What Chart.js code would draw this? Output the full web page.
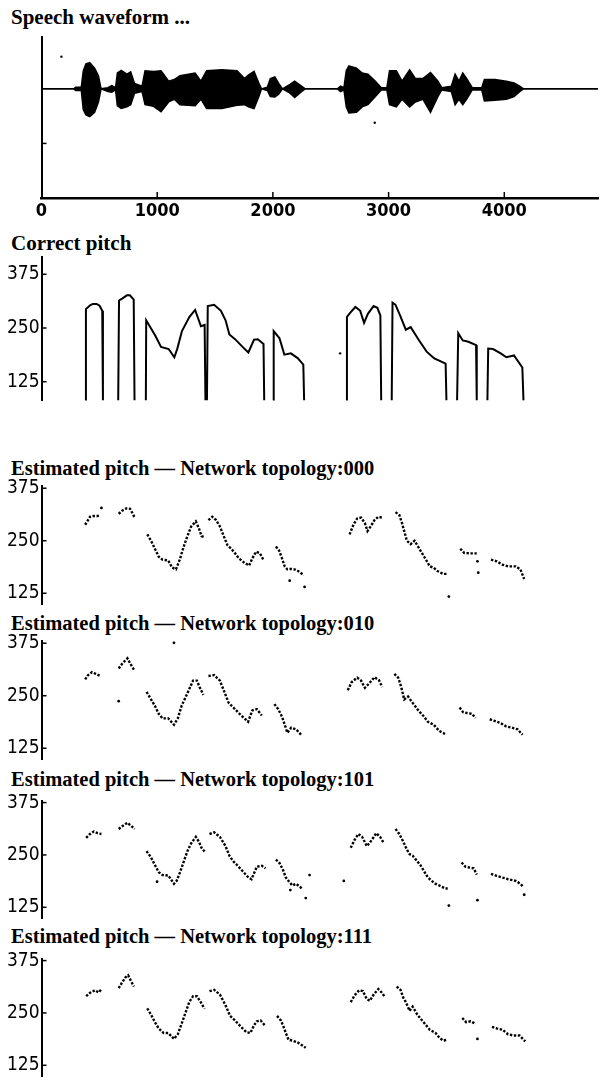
<!DOCTYPE html>
<html>
<head>
<meta charset="utf-8">
<script src="https://cdn.jsdelivr.net/npm/chart.js@4.4.1/dist/chart.umd.min.js"></script>
<style>
  html, body { margin: 0; padding: 0; background: #fff; overflow: hidden; }
  body { width: 602px; height: 1082px; position: relative; }
  canvas { position: absolute; left: 0; }
  .ttl { position: absolute; left: 11px; font-family: "Liberation Serif", "DejaVu Serif", serif;
         font-weight: bold; color: #000; white-space: nowrap; }
</style>
</head>
<body>
<div class="ttl" style="top:7px;font-size:21px;line-height:21px">Speech waveform ...</div>
<div class="ttl" style="top:233px;font-size:21px;line-height:21px">Correct pitch</div>
<div class="ttl" style="top:458px;font-size:20.5px;line-height:20.5px">Estimated pitch — Network topology:000</div>
<div class="ttl" style="top:613px;font-size:20.5px;line-height:20.5px">Estimated pitch — Network topology:010</div>
<div class="ttl" style="top:769px;font-size:20.5px;line-height:20.5px">Estimated pitch — Network topology:101</div>
<div class="ttl" style="top:926px;font-size:20.5px;line-height:20.5px">Estimated pitch — Network topology:111</div>

<canvas id="wave"></canvas>
<canvas id="correct"></canvas>
<canvas id="est000"></canvas>
<canvas id="est010"></canvas>
<canvas id="est101"></canvas>
<canvas id="est111"></canvas>

<script>
// ---- data (time axis in samples, pitch in Hz) ----
const timeTicks = [0, 1000, 2000, 3000, 4000];
const pitchTicks = [125, 250, 375];

// waveform envelope: position, upper amplitude, lower amplitude
const waveX = [0, 279, 295, 344, 361, 384, 417, 459, 492, 515, 574, 607, 640, 656, 689, 738, 771, 804, 869, 895,
  968, 1033, 1099, 1148, 1197, 1328, 1378, 1427, 1558, 1690, 1755, 1788, 1837, 1879, 1902, 1952, 1978, 2017, 2050, 2083,
  2148, 2188, 2247, 2280, 2558, 2585, 2614, 2634, 2657, 2722, 2772, 2821, 2886, 2936, 2985, 3008, 3067, 3116, 3182, 3231,
  3296, 3362, 3427, 3460, 3542, 3575, 3608, 3641, 3674, 3723, 3805, 3828, 3920, 4018, 4084, 4133, 4166, 4810];
const waveUp = [0, 0, .03, .03, .33, .46, .48, .38, .24, 0, .02, .06, .02, .29, .34, .27, .31, .1, .05, .33,
  .32, .33, .14, .17, .24, .29, .14, .33, .35, .33, .19, .25, .32, .1, 0, .03, .19, .22, .1, 0,
  .08, .14, .05, 0, 0, .05, .02, .33, .42, .38, .29, .27, .14, .02, .02, .33, .33, .14, .35, .19,
  .19, .3, .14, .02, .05, .27, .14, .29, .19, .02, .02, .17, .17, .14, .11, .05, 0, 0];
const waveDown = [0, 0, .03, .03, .38, .48, .51, .43, .24, 0, .05, .06, .02, .31, .36, .33, .29, .08, .05, .29,
  .32, .42, .24, .19, .29, .31, .19, .36, .36, .3, .29, .33, .36, .14, 0, .03, .14, .15, .1, 0,
  .08, .16, .05, 0, 0, .05, .02, .33, .44, .43, .33, .29, .14, .02, .02, .29, .33, .19, .33, .24,
  .19, .43, .14, .02, .05, .29, .19, .29, .19, .02, .02, .22, .21, .19, .14, .05, 0, 0];
const waveSpeckX = [172, 2880];
const waveSpeckY = [0.59, -0.62];

// correct pitch (81 = bottom of the panel, null = break)
const corrX = [377, 384, 420, 443, 476, 502, 525, 531, null,
  663, 670, 700, 738, 764, 797, 804, null,
  902, 905, 984, 1033, 1099, 1148, 1174, 1214, 1279, 1328, 1378, 1410, 1417, null,
  1430, 1437, 1492, 1551, 1591, 1624, 1673, 1738, 1788, 1837, 1870, 1919, 1925, null,
  2001, 2007, 2057, 2099, 2155, 2214, 2263, 2270, null,
  2634, 2640, 2673, 2713, 2755, 2788, 2821, 2870, 2903, 2929, 2936, null,
  3027, 3034, 3060, 3100, 3149, 3191, 3264, 3329, 3395, 3493, 3500, null,
  3592, 3602, 3641, 3690, 3756, 3762, null,
  3854, 3861, 3903, 3969, 4018, 4084, 4156, 4166];
const corrY = [81, 294, 303, 306, 306, 302, 290, 81, null,
  81, 314, 319, 326, 326, 316, 81, null,
  81, 268, 232, 206, 201, 182, 202, 243, 276, 292, 254, 257, 81, null,
  81, 301, 304, 290, 268, 235, 224, 206, 193, 223, 224, 213, 81, null,
  81, 243, 226, 188, 191, 180, 165, 81, null,
  81, 276, 287, 299, 290, 262, 283, 301, 297, 279, 81, null,
  81, 309, 304, 279, 246, 252, 221, 195, 179, 167, 81, null,
  81, 238, 221, 218, 210, 81, null,
  81, 202, 201, 191, 182, 186, 158, 81];
const corrSpeckX = [2581, 3538];
const corrSpeckY = [191, 65];

// estimated pitch, topology 000
const estX000 = [377, 396, 419, 452, 485, 508, null,
  667, 700, 733, 766, 789, 805, null,
  914, 947, 980, 1013, 1046, 1096, 1129, 1162, 1195, 1228, 1261, 1294, 1334, 1360, 1383, 1410, null,
  1443, 1476, 1509, 1542, 1575, 1608, 1640, 1673, 1706, 1756, 1795, 1822, 1855, 1888, 1921, null,
  2026, 2053, 2079, 2102, 2125, 2158, 2185, 2218, 2267, null,
  2663, 2696, 2729, 2762, 2795, 2818, 2845, 2878, 2911, 2944, null,
  3060, 3093, 3116, 3135, 3158, 3191, 3224, 3257, 3290, 3323, 3356, 3389, 3422, 3472, 3511, null,
  3620, 3653, 3702, 3762, null,
  3885, 3934, 3984, 4033, 4099, 4139, 4172];
const estY000 = [288, 296, 307, 309, 309, 311, null,
  314, 322, 327, 326, 314, 305, null,
  265, 250, 231, 212, 205, 203, 186, 182, 205, 235, 261, 284, 296, 280, 261, 258, null,
  299, 307, 299, 284, 261, 239, 231, 220, 208, 197, 191, 208, 224, 220, 203, null,
  236, 227, 208, 189, 182, 183, 182, 178, 168, null,
  265, 288, 303, 305, 292, 273, 284, 299, 307, 305, null,
  318, 311, 292, 273, 250, 242, 250, 235, 220, 205, 189, 186, 178, 171, 171, null,
  231, 221, 220, 220, null,
  205, 201, 193, 189, 189, 182, 159];
const strayX000 = [518, 2145, 2274, 3521, 3768, 3775];
const strayY000 = [328, 155, 140, 117, 201, 174];

// estimated pitch, topology 010
const estX010 = [377, 403, 436, 469, 508, null,
  667, 700, 743, 766, 799, null,
  908, 941, 980, 1013, 1046, 1096, 1145, 1178, 1211, 1261, 1310, 1343, 1366, 1399, null,
  1443, 1492, 1542, 1575, 1618, 1673, 1726, 1786, 1822, 1861, 1904, null,
  2013, 2046, 2079, 2102, 2125, 2158, 2201, 2251, null,
  2647, 2680, 2729, 2762, 2795, 2828, 2878, 2917, 2944, null,
  3050, 3083, 3109, 3135, 3168, 3208, 3257, 3307, 3340, 3389, 3439, 3488, null,
  3614, 3644, 3677, 3720, 3752, null,
  3874, 3917, 3967, 4016, 4066, 4115, 4158];
const estY010 = [289, 299, 306, 302, 297, null,
  315, 327, 339, 327, 312, null,
  259, 244, 226, 207, 196, 196, 181, 196, 226, 256, 286, 286, 271, 252, null,
  297, 299, 286, 263, 233, 218, 203, 188, 215, 218, 203, null,
  230, 218, 200, 181, 162, 174, 170, 155, null,
  263, 282, 293, 286, 269, 278, 294, 287, 271, null,
  302, 293, 271, 241, 248, 233, 215, 200, 188, 181, 166, 159, null,
  222, 211, 209, 207, 197, null,
  194, 190, 185, 177, 174, 170, 157];
const strayX010 = [1145, 667];
const strayY010 = [376, 237];

// estimated pitch, topology 101
const estX101 = [386, 419, 452, 485, 518, null,
  667, 700, 743, 776, 805, null,
  908, 947, 980, 1013, 1046, 1096, 1145, 1168, 1195, 1228, 1261, 1294, 1334, 1360, 1383, 1416, null,
  1452, 1492, 1542, 1591, 1624, 1657, 1690, 1739, 1789, 1815, 1838, 1861, 1904, 1937, null,
  2026, 2059, 2086, 2112, 2135, 2168, 2201, 2251, null,
  2673, 2706, 2739, 2772, 2812, 2845, 2894, 2927, 2960, null,
  3060, 3093, 3126, 3158, 3181, 3208, 3241, 3274, 3307, 3340, 3373, 3406, 3439, 3488, 3511, null,
  3631, 3664, 3697, 3736, 3762, null,
  3885, 3934, 3984, 4033, 4099, 4139, 4165];
const estY101 = [291, 300, 306, 302, 300, null,
  312, 319, 327, 319, 312, null,
  259, 244, 226, 209, 202, 201, 181, 188, 207, 233, 259, 278, 293, 282, 267, 256, null,
  300, 304, 293, 271, 248, 235, 226, 211, 196, 192, 207, 222, 224, 218, null,
  239, 230, 215, 196, 188, 177, 181, 170, null,
  267, 286, 300, 293, 271, 282, 302, 293, 278, null,
  312, 300, 282, 263, 252, 248, 237, 226, 211, 196, 188, 181, 177, 170, 170, null,
  232, 222, 220, 218, 203, null,
  205, 200, 196, 192, 188, 181, 174];
const strayX101 = [999, 2151, 2284, 2317, 2613, 3521, 3768, 4172];
const strayY101 = [186, 166, 147, 202, 188, 129, 142, 155];

// estimated pitch, topology 111
const estX111 = [386, 419, 462, 495, 518, null,
  667, 693, 726, 749, 772, 799, null,
  914, 947, 980, 1013, 1056, 1096, 1145, 1178, 1211, 1244, 1277, 1310, 1343, 1376, 1409, null,
  1452, 1492, 1542, 1591, 1630, 1673, 1723, 1772, 1805, 1838, 1861, 1894, 1937, null,
  2036, 2069, 2092, 2112, 2135, 2168, 2211, 2251, 2284, null,
  2673, 2706, 2745, 2778, 2812, 2838, 2871, 2911, 2944, 2970, null,
  3070, 3103, 3126, 3149, 3182, 3208, 3248, 3290, 3323, 3356, 3406, 3439, 3472, 3511, null,
  3637, 3670, 3710, 3752, null,
  3894, 3934, 3984, 4033, 4082, 4132, 4181];
const estY111 = [290, 298, 304, 299, 307, null,
  309, 321, 335, 340, 327, 313, null,
  261, 246, 228, 213, 202, 202, 188, 199, 224, 250, 276, 290, 290, 276, 260, null,
  302, 305, 294, 268, 243, 232, 217, 204, 202, 221, 230, 232, 218, null,
  243, 232, 217, 202, 186, 184, 180, 173, 167, null,
  276, 292, 304, 302, 283, 279, 294, 307, 298, 287, null,
  313, 305, 287, 276, 255, 265, 246, 232, 221, 210, 202, 191, 184, 186, null,
  238, 228, 230, 224, null,
  217, 213, 210, 199, 196, 196, 182];
const strayX111 = [3768];
const strayY111 = [188];

// ---- helpers ----
const NUM_FONT = '"Liberation Sans Narrow", "DejaVu Sans Condensed", "Liberation Sans", sans-serif';
Chart.defaults.color = '#000';

const pts = (xs, ys) => xs.map((x, i) => ({ x: x, y: ys[i] }));

// small tick marks drawn on the inner side of the axes
const inwardTicks = {
    id: 'inwardTicks',
    afterDraw(chart, args, opts) {
        const ctx = chart.ctx;
        const xs = chart.scales.x, ys = chart.scales.y;
        ctx.save();
        ctx.strokeStyle = '#000';
        ctx.lineWidth = 1.5;
        (opts.y || []).forEach(v => {
            const py = ys.getPixelForValue(v);
            ctx.beginPath(); ctx.moveTo(ys.right, py); ctx.lineTo(ys.right + 5, py); ctx.stroke();
        });
        (opts.x || []).forEach(v => {
            const px = xs.getPixelForValue(v);
            ctx.beginPath(); ctx.moveTo(px, xs.top); ctx.lineTo(px, xs.top - 6); ctx.stroke();
        });
        ctx.restore();
    }
};

function yAxis(min, max, ticks, labels) {
    return {
        type: 'linear', min: min, max: max,
        afterFit: s => { s.width = 41.5; },
        afterBuildTicks: s => { s.ticks = ticks.map(v => ({ value: v })); },
        grid: { drawOnChartArea: false, drawTicks: false },
        border: { display: true, color: '#000', width: 2 },
        ticks: { padding: 2, autoSkip: false, font: { family: NUM_FONT, size: 19 },
                 callback: v => labels ? String(v) : '' }
    };
}

function place(id, areaTop, areaBottom) {
    const cv = document.getElementById(id);
    const top = Math.floor(areaTop) - 16;
    const h = Math.ceil(areaBottom) + 6 - top;
    cv.width = 602; cv.height = h;
    cv.style.top = top + 'px';
    return { cv: cv, pad: { top: areaTop - top, bottom: h - (areaBottom - top), left: 0, right: 0 } };
}

const baseOpts = { responsive: false, animation: false, events: [],
                   plugins: { legend: { display: false }, tooltip: { enabled: false } } };

// ---- speech waveform ----
(function () {
    const cv = document.getElementById('wave');
    cv.width = 602; cv.height = 232; cv.style.top = '0px';
    new Chart(cv.getContext('2d'), {
        type: 'line',
        data: {
            datasets: [
                { data: pts(waveX, waveUp), fill: '+1', backgroundColor: '#000', borderColor: '#000',
                  borderWidth: 1.5, pointRadius: 0, tension: 0 },
                { data: pts(waveX, waveDown.map(v => -v)), fill: false, borderColor: '#000',
                  borderWidth: 1.5, pointRadius: 0, tension: 0 },
                { data: pts(waveSpeckX, waveSpeckY), showLine: false, pointRadius: 1.2,
                  pointBackgroundColor: '#000', pointBorderWidth: 0 }
            ]
        },
        options: Object.assign({}, baseOpts, {
            layout: { padding: { top: 37, left: 0, right: 0, bottom: 0 } },
            scales: {
                x: { type: 'linear', min: 0, max: 4810,
                     afterFit: s => { s.height = 34; },
                     afterBuildTicks: s => { s.ticks = timeTicks.map(v => ({ value: v })); },
                     grid: { drawOnChartArea: false, drawTicks: false },
                     border: { display: true, color: '#000', width: 2.5 },
                     ticks: { padding: 3, autoSkip: false, maxRotation: 0,
                              font: { family: NUM_FONT, size: 18, weight: 'bold' },
                              callback: v => String(v) } },
                y: yAxis(-2, 0.95, [-1], false)
            },
            plugins: Object.assign({}, baseOpts.plugins, { inwardTicks: { x: timeTicks.slice(1), y: [-1] } })
        }),
        plugins: [inwardTicks]
    });
})();

// ---- pitch panels ----
function pitchChart(id, areaTop, areaBottom, yMin, yMax, datasets) {
    const p = place(id, areaTop, areaBottom);
    new Chart(p.cv.getContext('2d'), {
        type: 'line',
        data: { datasets: datasets },
        options: Object.assign({}, baseOpts, {
            layout: { padding: p.pad },
            scales: {
                x: { type: 'linear', min: 0, max: 4810, display: false },
                y: yAxis(yMin, yMax, pitchTicks, true)
            },
            plugins: Object.assign({}, baseOpts.plugins, { inwardTicks: { y: pitchTicks } })
        }),
        plugins: [inwardTicks]
    });
}

pitchChart('correct', 256.7, 408, 81, 416, [
    { data: pts(corrX, corrY), borderColor: '#000', borderWidth: 2, pointRadius: 0, tension: 0, spanGaps: false },
    { data: pts(corrSpeckX, corrSpeckY), showLine: false, pointRadius: 1.2, pointBackgroundColor: '#000',
      pointBorderWidth: 0, clip: false }
]);

function estSets(xs, ys, sx, sy) {
    return [
        { data: pts(xs, ys), borderColor: '#000', borderWidth: 2.4, borderDash: [2.4, 1.6],
          pointRadius: 0, tension: 0, spanGaps: false },
        { data: pts(sx, sy), showLine: false, pointRadius: 1.4, pointBackgroundColor: '#000',
          pointBorderWidth: 0 }
    ];
}

const estTops = [486.1, 641.1, 800.5, 958.5];
const estH = 125.2;
pitchChart('est000', estTops[0], estTops[0] + estH, 98, 380, estSets(estX000, estY000, strayX000, strayY000));
pitchChart('est010', estTops[1], estTops[1] + estH, 98, 380, estSets(estX010, estY010, strayX010, strayY010));
pitchChart('est101', estTops[2], estTops[2] + estH, 98, 380, estSets(estX101, estY101, strayX101, strayY101));
pitchChart('est111', estTops[3], estTops[3] + estH, 98, 380, estSets(estX111, estY111, strayX111, strayY111));
</script>
</body>
</html>
